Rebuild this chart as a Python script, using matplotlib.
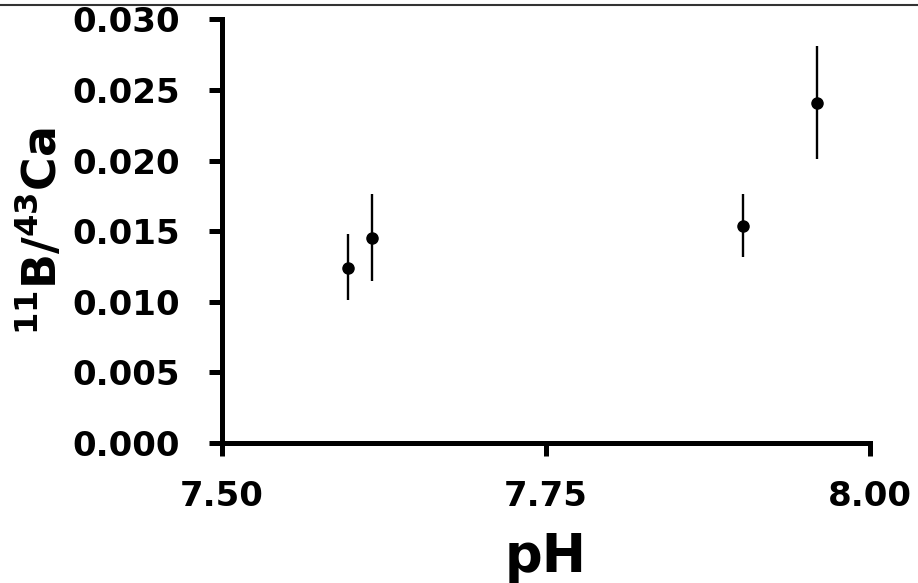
import matplotlib
matplotlib.use("Agg")
import matplotlib.pyplot as plt
import numpy as np

plt.rcParams['font.family'] = ['DejaVu Sans']
plt.rcParams['mathtext.fontset'] = 'dejavusans'
plt.rcParams['mathtext.default'] = 'bf'

ph = [7.597, 7.616, 7.902, 7.959]
ratio = [0.0124, 0.0145, 0.0154, 0.0241]
err_low = [0.0023, 0.0030, 0.0022, 0.0040]
err_high = [0.0024, 0.0031, 0.0022, 0.0040]
xticks = [7.50, 7.75, 8.00]
xtick_labels = ['7.50', '7.75', '8.00']
yticks = [0.000, 0.005, 0.010, 0.015, 0.020, 0.025, 0.030]
ytick_labels = ['0.000', '0.005', '0.010', '0.015', '0.020', '0.025', '0.030']

fig = plt.figure(figsize=(9.18, 5.83), dpi=100)
ax = fig.add_axes([222/918, 1-443/583, (870-222)/918, (443-19.4)/583])

ax.errorbar(ph, ratio, yerr=[err_low, err_high], fmt='o', color='black',
            ecolor='black', elinewidth=1.7, capsize=0, markersize=8, zorder=3)

ax.set_xlim(7.50, 8.00)
ax.set_ylim(0.0, 0.030)
ax.set_xticks(xticks)
ax.set_xticklabels(xtick_labels)
ax.set_yticks(yticks)
ax.set_yticklabels(ytick_labels)

for s in ['top', 'right']:
    ax.spines[s].set_visible(False)
for s in ['left', 'bottom']:
    ax.spines[s].set_linewidth(3.6)
    ax.spines[s].set_capstyle('projecting')

ax.tick_params(axis='both', direction='out', length=9.5, width=3.6,
               labelsize=24.5)
ax.tick_params(axis='y', pad=21)
ax.tick_params(axis='x', pad=17)
for lbl in ax.get_xticklabels() + ax.get_yticklabels():
    lbl.set_fontweight('bold')

ax.set_xlabel('pH', fontsize=38, fontweight='bold', labelpad=13)
ax.set_ylabel(r'$^{11}$B/$^{43}$Ca', fontsize=33, fontweight='bold', labelpad=4)

fig.add_artist(plt.Line2D([0, 1], [1-5/583, 1-5/583], color='#333333', lw=1.5,
                          transform=fig.transFigure))

fig.savefig('out.png', dpi=100)
